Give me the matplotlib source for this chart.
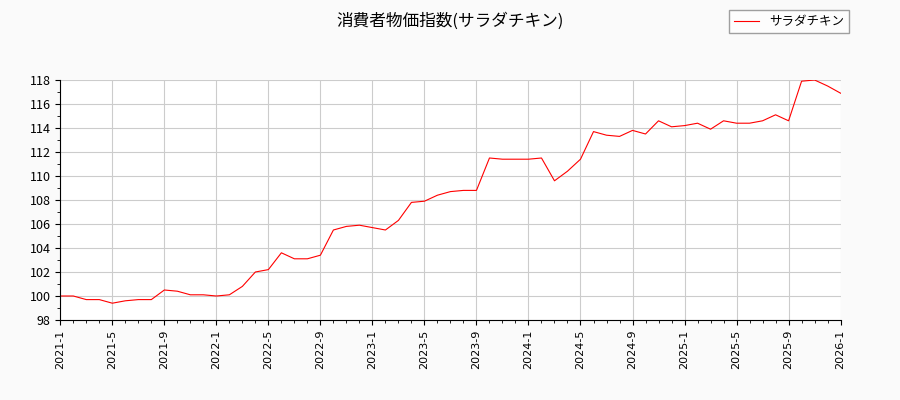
import matplotlib
matplotlib.use('Agg')
import matplotlib.pyplot as plt
import matplotlib.ticker as mticker
import numpy as np

plt.rcParams['font.family'] = ['Noto Sans CJK JP', 'DejaVu Sans']

values = [100.0, 100.0, 99.7, 99.7, 99.4, 99.6, 99.7, 99.7, 100.5, 100.4, 100.1, 100.1,
          100.0, 100.1, 100.8, 102.0, 102.2, 103.6, 103.1, 103.1, 103.4, 105.5, 105.8, 105.9,
          105.7, 105.5, 106.3, 107.8, 107.9, 108.4, 108.7, 108.8, 108.8, 111.5, 111.4, 111.4,
          111.4, 111.5, 109.6, 110.4, 111.4, 113.7, 113.4, 113.3, 113.8, 113.5, 114.6, 114.1,
          114.2, 114.4, 113.9, 114.6, 114.4, 114.4, 114.6, 115.1, 114.6, 117.9, 118.0, 117.5,
          116.9]
labels = [f'{2021 + i // 12}-{i % 12 + 1}' for i in range(len(values))]
x = np.arange(len(values))

fig = plt.figure(figsize=(9, 4), dpi=100, facecolor='#fafafa')
ax = fig.add_axes([0.067, 0.2, 0.867, 0.6])
ax.plot(x, values, color='red', linewidth=0.8, label='サラダチキン')
ax.set_xlim(0, len(values) - 1)
ax.set_ylim(98, 118)
ax.set_xticks(x[::4])
ax.set_xticklabels(labels[::4], rotation=90, fontsize=8, family='DejaVu Sans')
ax.yaxis.set_major_locator(mticker.MultipleLocator(2))
ax.yaxis.set_minor_locator(mticker.MultipleLocator(1))
ax.xaxis.set_minor_locator(mticker.MultipleLocator(1))
ax.tick_params(axis='y', labelsize=9)
ax.grid(True, color='#cccccc', linewidth=0.8)
for s in ['top', 'right']:
    ax.spines[s].set_visible(False)
fig.suptitle('消費者物価指数(サラダチキン)', fontsize=12, y=0.97)
fig.legend(loc='upper right', bbox_to_anchor=(0.95, 0.99), fontsize=9, fancybox=False,
           edgecolor='#888888')
fig.savefig('out.png', facecolor=fig.get_facecolor())
